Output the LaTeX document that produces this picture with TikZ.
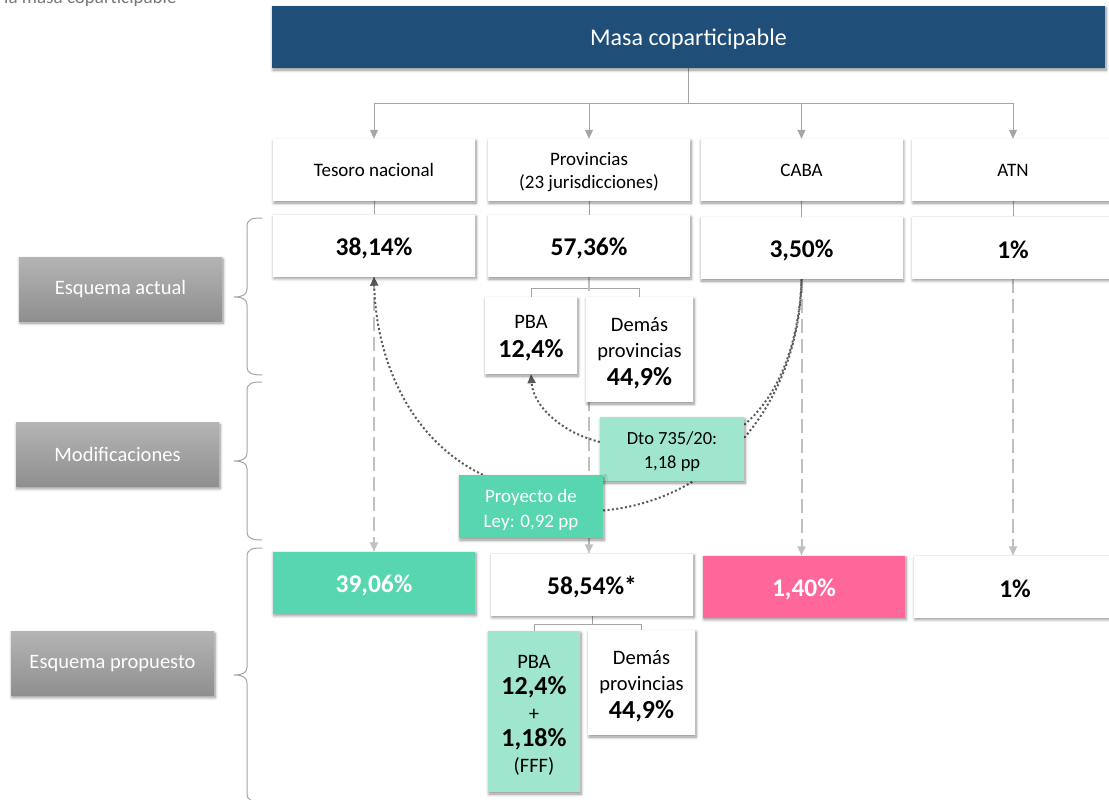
\documentclass[tikz,border=0pt]{standalone}
\usepackage{fontspec}
\setmainfont{Carlito}
\usetikzlibrary{shadows,shadows.blur,arrows.meta,backgrounds,calc}
\definecolor{navy}{RGB}{31,78,121}
\definecolor{mintA}{RGB}{88,214,176}
\definecolor{mintB}{RGB}{160,230,207}
\definecolor{pinkc}{RGB}{255,102,153}
\definecolor{lgrey}{RGB}{192,192,192}
\definecolor{mgrey}{RGB}{165,165,165}
\definecolor{dgrey}{RGB}{89,89,89}
\definecolor{labtop}{RGB}{180,180,180}
\definecolor{labbot}{RGB}{143,143,143}
\definecolor{txtgrey}{RGB}{120,120,120}
\newcommand\dn[1]{\rule{0pt}{#1}}
\begin{document}
\begin{tikzpicture}[x=1pt,y=-1pt,
  shad/.style={blur shadow={shadow xshift=1pt,shadow yshift=-2pt,shadow blur steps=6,shadow blur radius=3pt,shadow opacity=45}},
  cellbox/.style={shad,fill=white,inner sep=0pt,align=center,minimum width=202pt,minimum height=62pt},
  namebox/.style={cellbox,font=\fontsize{19}{23}\selectfont},
  valbox/.style={cellbox,font=\fontsize{25.5}{30}\selectfont\bfseries},
  subbox/.style={shad,fill=white,inner sep=0pt,align=center,font=\fontsize{20.5}{26}\selectfont},
  labbox/.style={shad,top color=labtop,bottom color=labbot,minimum width=203pt,minimum height=64pt,text=white,font=\fontsize{20.5}{24}\selectfont},
  tree/.style={draw=mgrey,line width=1pt},
  arr/.style={-{Triangle[length=9pt,width=8pt]}},
  dashline/.style={draw=lgrey,line width=2pt,dash pattern=on 14pt off 6pt,-{Triangle[length=9pt,width=8pt,fill=lgrey]}},
  dotline/.style={draw=dgrey,line width=2pt,dash pattern=on 2pt off 2.4pt},
  dotarr/.style={dotline,-{Triangle[length=9pt,width=8pt,fill=dgrey]}},
  bracestyle/.style={draw=mgrey,line width=1pt}
]
\useasboundingbox (0,0) rectangle (1109,800);

% cut-off caption
\node[anchor=base west,inner sep=0pt,text=txtgrey,font=\fontsize{19}{22}\selectfont] (cap) at (4,4) {la masa coparticipable};

% title
\node[shad,fill=navy,text=white,minimum width=833pt,minimum height=62pt,inner sep=0pt,font=\fontsize{24}{28}\selectfont] (title) at (688.5,37) {\dn{20pt}Masa coparticipable};

% row 1
\node[namebox] (tesoro) at (374,170) {Tesoro nacional};
\node[namebox] (prov) at (589,170) {\dn{17pt}Provincias\\(23 jurisdicciones)};
\node[namebox] (caba) at (801.5,170) {CABA};
\node[namebox] (atn) at (1013,170) {ATN};

% row 2
\node[valbox] (v1) at (374,245.5) {\dn{23pt}38,14\%};
\node[valbox] (v2) at (589,246) {\dn{23pt}57,36\%};
\node[valbox] (v3) at (801.5,248) {\dn{23pt}3,50\%};
\node[valbox] (v4) at (1013,247.5) {\dn{23pt}1\%};

% sub boxes current
\node[subbox,minimum width=92pt,minimum height=77pt] (pba1) at (531,335.5) {\dn{19.5pt}PBA\\[3pt]{\fontsize{26}{27}\selectfont\bfseries 12,4\%}};
\node[subbox,minimum width=107pt,minimum height=105pt] (dem1) at (639.5,349.5) {\dn{21pt}Demás\\provincias\\[2pt]{\fontsize{26}{26}\selectfont\bfseries 44,9\%}};

% modification boxes
\node[shad,fill=mintB,inner sep=0pt,align=center,minimum width=144pt,minimum height=64pt,font=\fontsize{18.5}{24}\selectfont] (dto) at (672,449) {\dn{18pt}Dto 735/20:\\1,18 pp};
\node[shad,fill=mintA,text=white,inner sep=0pt,align=center,minimum width=144pt,minimum height=63pt,font=\fontsize{19}{25}\selectfont] (proy) at (531,506.5) {\dn{20pt}Proyecto de\\Ley: 0,92 pp};

% row 3
\node[valbox,fill=mintA,text=white] (p1) at (374,582.5) {\dn{23pt}39,06\%};
\node[valbox] (p2) at (592,584.5) {\dn{23pt}58,54\%*};
\node[valbox,fill=pinkc,text=white] (p3) at (804,586.5) {\dn{23pt}1,40\%};
\node[valbox] (p4) at (1015,586.5) {\dn{23pt}1\%};

% sub boxes proposed
\node[subbox,fill=mintB,minimum width=92pt,minimum height=161pt] (pba2) at (534,711.5) {\dn{21.5pt}PBA\\{\fontsize{26}{26}\selectfont\bfseries 12,4\%}\\+\\{\fontsize{26}{26}\selectfont\bfseries 1,18\%}\\(FFF)};
\node[subbox,minimum width=107pt,minimum height=105pt] (dem2) at (641.5,682.5) {\dn{21pt}Demás\\provincias\\[2pt]{\fontsize{26}{26}\selectfont\bfseries 44,9\%}};

% left labels
\node[labbox] (l1) at (120.5,289) {Esquema actual};
\node[labbox] (l2) at (117.5,454.5) {Modificaciones};
\node[labbox] (l3) at (112.5,663.5) {Esquema propuesto};

% braces
\draw[bracestyle] (262,218) .. controls (252,218) and (247,219) .. (247,227) -- (247,289) .. controls (247,295) and (242,297) .. (234,297) .. controls (242,297) and (247,299) .. (247,305) -- (247,367) .. controls (247,373) and (252,375) .. (262,375);
\draw[bracestyle] (262,382) .. controls (252,382) and (247,383) .. (247,391) -- (247,453) .. controls (247,459) and (242,461) .. (234,461) .. controls (242,461) and (247,463) .. (247,469) -- (247,532) .. controls (247,538) and (252,540) .. (262,540);
\draw[bracestyle] (262,548) .. controls (252,548) and (247,549) .. (247,557) -- (247,667) .. controls (247,673) and (242,675) .. (234,675) .. controls (242,675) and (247,677) .. (247,683) -- (247,794) .. controls (247,800) and (252,802) .. (262,802);

\begin{scope}[on background layer]
  % tree from title
  \coordinate (hub) at ($(title.south)+(0,35)$);
  \draw[tree] (title.south) -- (hub);
  \draw[tree,arr] (hub) -| (tesoro.north);
  \draw[tree,arr] (hub) -| (prov.north);
  \draw[tree,arr] (hub) -| (caba.north);
  \draw[tree,arr] (hub) -| (atn.north);
  % row1 -> row2
  \draw[tree] (tesoro.south) -- (v1.north);
  \draw[tree] (prov.south) -- (v2.north);
  \draw[tree] (caba.south) -- (caba.south |- v3.north);
  \draw[tree] (atn.south) -- (atn.south |- v4.north);
  % split current provinces
  \coordinate (s1) at ($(v2.south)+(0,11)$);
  \draw[tree] (v2.south) -- (s1);
  \draw[tree] (s1) -| (pba1.north);
  \draw[tree] (s1) -| (dem1.north);
  % split proposed provinces
  \coordinate (s2) at ($(p2.south)+(0,9)$);
  \draw[tree] (p2.south) -- (s2);
  \draw[tree] (s2) -| (pba2.north);
  \draw[tree] (s2) -| (dem2.north);
  % dashed transitions
  \draw[dashline] (v1.south) -- (v1.south |- p1.north);
  \draw[dashline] (v2.south) -- (v2.south |- p2.north);
  \draw[dashline] (v3.south) -- (v3.south |- p3.north);
  \draw[dashline] (v4.south) -- (v4.south |- p4.north);
  % dotted modification curves
  \draw[dotarr] ([xshift=24pt]proy.north west) .. controls (410,440) and (376,360) .. (v1.south);
  \draw[dotline] ([yshift=-4pt]proy.east) .. controls (720,500) and (800,400) .. (v3.south);
  \draw[dotline] ([yshift=-8pt]dto.north east) .. controls (785,390) and (800,330) .. (v3.south);
  \draw[dotarr] ([yshift=7pt]dto.west) .. controls (560,432) and (533,405) .. (pba1.south);
\end{scope}
\end{tikzpicture}
\end{document}
